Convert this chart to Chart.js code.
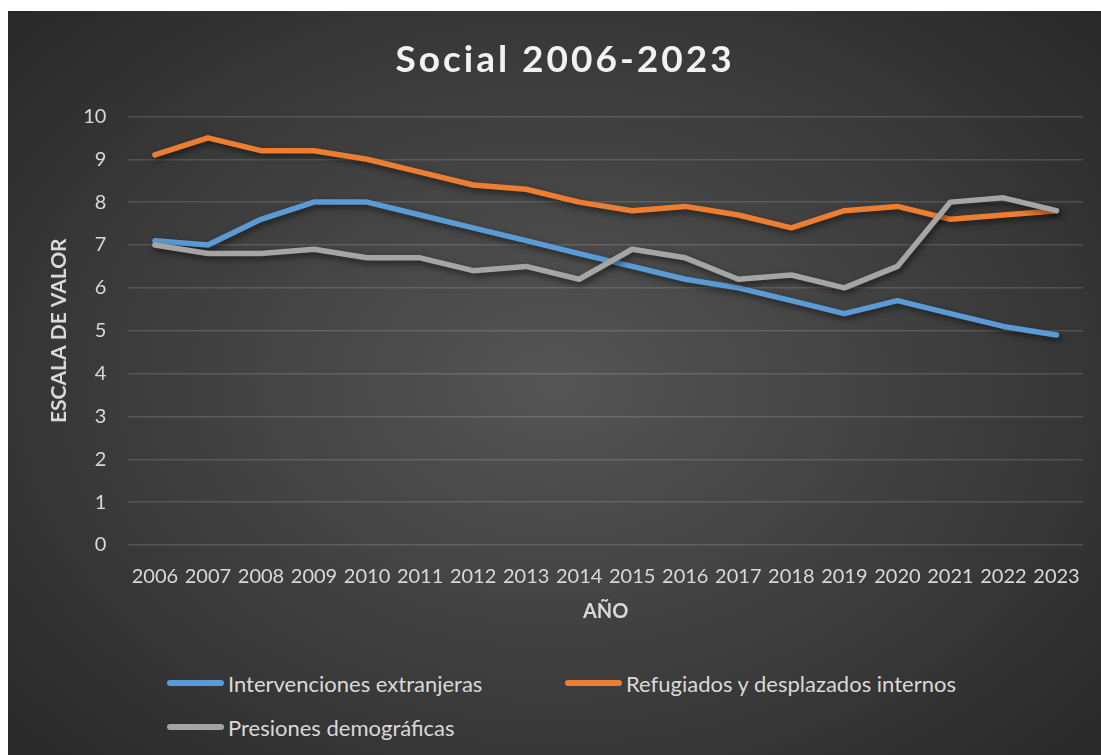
<!DOCTYPE html>
<html lang="es">
<head>
<meta charset="utf-8">
<title>Social 2006-2023</title>
<script src="https://cdn.jsdelivr.net/npm/chart.js@4.4.1/dist/chart.umd.min.js"></script>
<style>
  body { margin: 0; background: #fff; width: 1101px; height: 755px; overflow: hidden; font-family: Lato, "Open Sans", sans-serif; }
  #panel {
    position: absolute; left: 8px; top: 11px; width: 1093px; height: 744px;
    background: radial-gradient(ellipse 70% 75% at 50% 50%, #555555 0%, #3a3a3a 60%, #272727 100%);
  }
  #wrap { position: absolute; left: 0; top: 0; width: 1093px; height: 613px; }
  #legende {
    position: absolute; left: 159px; top: 650px;
    display: grid; grid-template-columns: 398px 400px;
  }
  .item { display: flex; align-items: center; height: 44px; color: #d9d9d9; font-size: 22px; }
  .strich { width: 57px; height: 6px; border-radius: 3px; margin-right: 4px; }
</style>
</head>
<body>
<div id="panel">
  <div id="wrap"><canvas id="chart" width="1093" height="613"></canvas></div>
  <div id="legende"></div>
</div>
<script>
// Daten
const jahre = ['2006', '2007', '2008', '2009', '2010', '2011', '2012', '2013', '2014',
  '2015', '2016', '2017', '2018', '2019', '2020', '2021', '2022', '2023'];
const intervenciones = [7.1, 7.0, 7.6, 8.0, 8.0, 7.7, 7.4, 7.1, 6.8, 6.5, 6.2, 6.0, 5.7, 5.4, 5.7, 5.4, 5.1, 4.9];
const refugiados = [9.1, 9.5, 9.2, 9.2, 9.0, 8.7, 8.4, 8.3, 8.0, 7.8, 7.9, 7.7, 7.4, 7.8, 7.9, 7.6, 7.7, 7.8];
const presiones = [7.0, 6.8, 6.8, 6.9, 6.7, 6.7, 6.4, 6.5, 6.2, 6.9, 6.7, 6.2, 6.3, 6.0, 6.5, 8.0, 8.1, 7.8];

const schrift = 'Lato, "Open Sans", sans-serif';
const textFarbe = '#d9d9d9';

const serien = [
  { label: 'Intervenciones extranjeras', data: intervenciones, borderColor: '#5b9bd5', order: 2 },
  { label: 'Refugiados y desplazados internos', data: refugiados, borderColor: '#ed7d31', order: 1 },
  { label: 'Presiones demográficas', data: presiones, borderColor: '#a5a5a5', order: 0 },
];

// Schatten unter den Linien wie in Excel
const schatten = {
  id: 'schatten',
  beforeDatasetDraw(chart) {
    const c = chart.ctx;
    c.save();
    c.shadowColor = 'rgba(0,0,0,0.55)';
    c.shadowBlur = 6;
    c.shadowOffsetX = 2;
    c.shadowOffsetY = 3;
  },
  afterDatasetDraw(chart) { chart.ctx.restore(); },
};

// gesperrter Titel (letterSpacing nur fuer den Titelblock)
const sperrung = {
  id: 'sperrung',
  afterLayout(chart) {
    const tb = chart.titleBlock;
    if (!tb || tb._gesperrt) return;
    const orig = tb.draw.bind(tb);
    tb.draw = (area) => {
      chart.ctx.save();
      chart.ctx.letterSpacing = '3px';
      orig(area);
      chart.ctx.restore();
    };
    tb._gesperrt = true;
  },
};

// Hinweis: Chart.js rechnet ticks.padding beim Platzbedarf doppelt,
// daher die negativen Titel-Abstaende
new Chart(document.getElementById('chart'), {
  type: 'line',
  data: {
    labels: jahre,
    datasets: serien.map((s) => ({ ...s, borderWidth: 5.5, pointRadius: 0, tension: 0, borderCapStyle: 'round', borderJoinStyle: 'round', fill: false })),
  },
  options: {
    responsive: false,
    animation: false,
    layout: { padding: { left: 39, right: 18, top: 0, bottom: 0 } },
    plugins: {
      legend: { display: false },
      tooltip: { enabled: false },
      title: {
        display: true, text: 'Social 2006-2023', color: '#f2f2f2',
        font: { family: schrift, size: 37, weight: 'bold' },
        padding: { top: 27, bottom: 34 },
      },
    },
    scales: {
      x: {
        offset: true,
        grid: { display: false, drawTicks: false },
        border: { display: false },
        ticks: { color: textFarbe, font: { family: schrift, size: 20 }, maxRotation: 0, autoSkip: false, padding: 20 },
        title: { display: true, text: 'AÑO', color: textFarbe, font: { family: schrift, size: 20, weight: 'bold' }, padding: { top: -9, bottom: 0 } },
      },
      y: {
        min: 0, max: 10,
        grid: { color: 'rgba(255,255,255,0.14)', lineWidth: 1.5, drawTicks: false },
        border: { display: false },
        ticks: { stepSize: 1, color: textFarbe, font: { family: schrift, size: 20 }, padding: 22 },
        title: { display: true, text: 'ESCALA DE VALOR', color: textFarbe, font: { family: schrift, size: 21, weight: 'bold' }, padding: { top: 0, bottom: -11 } },
      },
    },
  },
  plugins: [schatten, sperrung],
});

document.getElementById('legende').innerHTML = serien
  .map((s) => `<div class="item"><span class="strich" style="background:${s.borderColor}"></span>${s.label}</div>`)
  .join('');
</script>
</body>
</html>
